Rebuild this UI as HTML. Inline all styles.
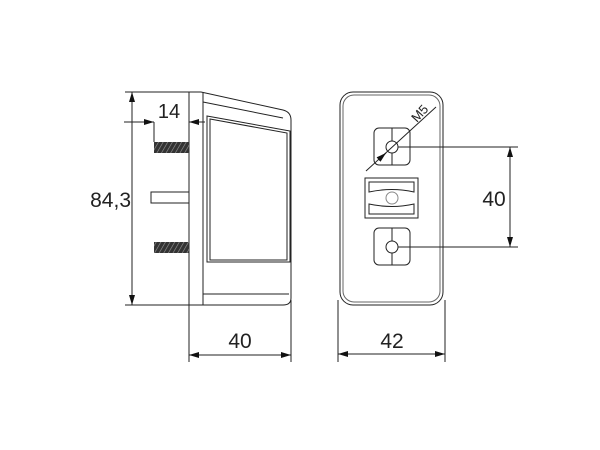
<!DOCTYPE html>
<html><head><style>body{margin:0;background:#fff}svg{display:block}text{font-family:"Liberation Sans",sans-serif;fill:#222}</style></head>
<body>
<svg width="600" height="450" viewBox="0 0 600 450" xmlns="http://www.w3.org/2000/svg">
<defs>
<marker id="a" viewBox="0 0 10 6" refX="10" refY="3" markerWidth="10" markerHeight="6" orient="auto-start-reverse" markerUnits="userSpaceOnUse"><path d="M0,0L10,3L0,6z" fill="#111"/></marker>
<pattern id="h" width="4" height="4" patternUnits="userSpaceOnUse" patternTransform="rotate(30)"><rect width="4" height="4" fill="#333"/><line x1="0" y1="0" x2="0" y2="4" stroke="#999" stroke-width="1.2"/></pattern>
</defs>
<g fill="none" stroke="#222" stroke-width="1">
<line x1="125" y1="92" x2="200" y2="92"/>
<line x1="125" y1="305" x2="200" y2="305"/>
<line x1="132" y1="92" x2="132" y2="305" marker-start="url(#a)" marker-end="url(#a)"/>
<line x1="124" y1="122" x2="154" y2="122" marker-end="url(#a)"/>
<line x1="205" y1="122" x2="189" y2="122" marker-end="url(#a)"/>
<line x1="154" y1="122" x2="154" y2="142"/>
<line x1="189" y1="92" x2="189" y2="362"/>
<line x1="203" y1="92" x2="203" y2="305"/>
<path d="M189,92 L201,92 L283,110 Q291,112 291,120 L291,298 Q291,305 283,305 L189,305"/>
<path d="M203,102 L283,118"/>
<path d="M203,294 L289,294"/>
<path d="M210,119 L287,133 L287,260 L210,260 Z"/>
<path d="M207,116 L290,131 L290,262 L207,262 Z"/>
<line x1="291" y1="300" x2="291" y2="362"/>
<rect x="151" y="192" width="38" height="11"/>
<line x1="189" y1="355" x2="291" y2="355" marker-start="url(#a)" marker-end="url(#a)"/>
<rect x="340" y="92" width="103" height="213" rx="13"/>
<rect x="343" y="95" width="97" height="207" rx="11" stroke="#666"/>
<line x1="338" y1="300" x2="338" y2="362"/>
<line x1="445" y1="300" x2="445" y2="362"/>
<line x1="338" y1="354" x2="445" y2="354" marker-start="url(#a)" marker-end="url(#a)"/>
<rect x="374" y="128" width="36" height="37" rx="5"/>
<line x1="392" y1="128" x2="392" y2="165"/>
<circle cx="392" cy="147" r="6" fill="#fff"/>
<rect x="365" y="178" width="53" height="40"/>
<path d="M369,182 h45 v10 q-22,-5 -45,0z M369,214 h45 v-10 q-22,5 -45,0z"/>
<circle cx="392" cy="198" r="6" stroke="#888"/>
<rect x="374" y="228" width="36" height="37" rx="5"/>
<line x1="392" y1="228" x2="392" y2="265"/>
<circle cx="392" cy="247" r="6" fill="#fff"/>
<line x1="398" y1="147" x2="518" y2="147"/>
<line x1="398" y1="247" x2="518" y2="247"/>
<line x1="510" y1="147" x2="510" y2="247" marker-start="url(#a)" marker-end="url(#a)"/>
<line x1="436" y1="107" x2="366" y2="171"/>
<line x1="378" y1="160" x2="386" y2="153" marker-end="url(#a)"/>
</g>
<rect x="154" y="142" width="35" height="11" fill="url(#h)"/>
<rect x="154" y="242" width="35" height="11" fill="url(#h)"/>
<text x="169" y="118" font-size="20" text-anchor="middle">14</text>
<text x="131" y="207" font-size="21" text-anchor="end">84,3</text>
<text x="240" y="348" font-size="21" text-anchor="middle">40</text>
<text x="392" y="348" font-size="21" text-anchor="middle">42</text>
<text x="494" y="206" font-size="21" text-anchor="middle">40</text>
<text x="0" y="0" font-size="13" transform="translate(417,123) rotate(-48)">M5</text>
</svg>
</body></html>
